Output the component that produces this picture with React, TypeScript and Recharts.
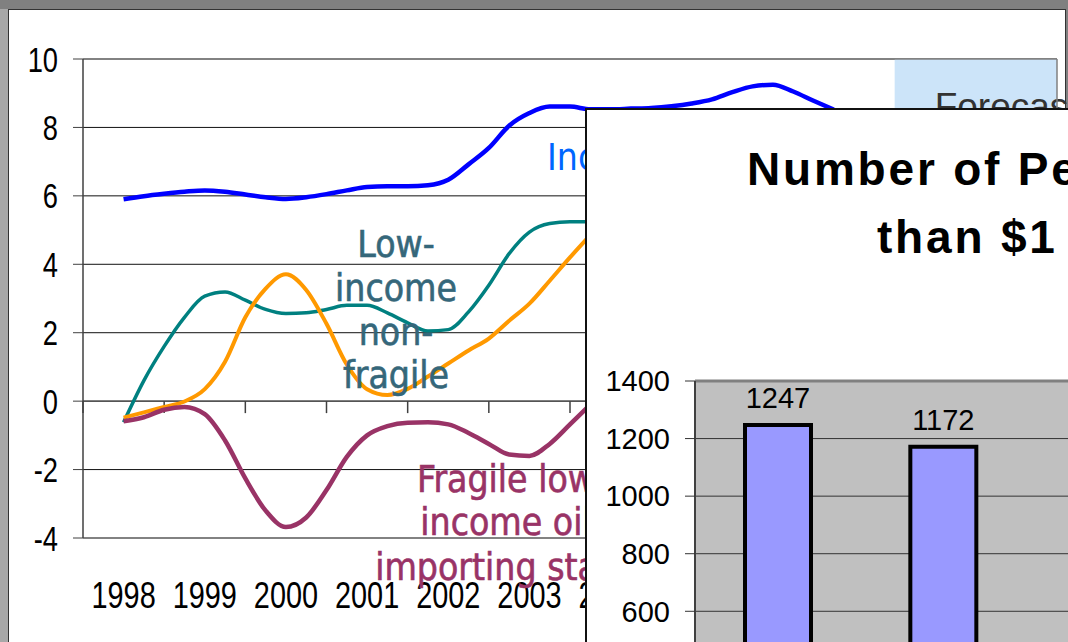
import {
  LineChart,
  Line,
  XAxis,
  YAxis,
  CartesianGrid,
  ReferenceArea,
  ReferenceLine,
  BarChart,
  Bar,
  LabelList,
} from "recharts";

// quarterly points
const quarters = [
  1998, 1998.25, 1998.5, 1998.75, 1999, 1999.25, 1999.5, 1999.75, 2000, 2000.25,
  2000.5, 2000.75, 2001, 2001.25, 2001.5, 2001.75, 2002, 2002.25, 2002.5, 2002.75,
  2003, 2003.25, 2003.5, 2003.75, 2004, 2004.25, 2004.5, 2004.75, 2005, 2005.25,
  2005.5, 2005.75, 2006, 2006.25, 2006.5, 2006.75,
];
const incomeGroup = [
  5.9, 5.99, 6.06, 6.12, 6.16, 6.12, 6.04, 5.96, 5.91, 5.96, 6.05, 6.16, 6.26, 6.28,
  6.28, 6.31, 6.47, 6.92, 7.4, 8.05, 8.42, 8.61, 8.61, 8.53, 8.53, 8.55, 8.57, 8.62,
  8.7, 8.82, 9.03, 9.2, 9.25, 9.05, 8.78, 8.52,
];
const lowIncomeNonFragile = [
  -0.62, 0.6, 1.6, 2.45, 3.07, 3.19, 2.95, 2.68, 2.56, 2.58, 2.68, 2.8, 2.8, 2.58,
  2.29, 2.05, 2.09, 2.61, 3.39, 4.31, 4.94, 5.19, 5.24, 5.24,
];
const oilExporters = [
  -0.48, -0.33, -0.17, -0.01, 0.35, 1.15, 2.45, 3.29, 3.71, 3.25, 2.26, 1.07, 0.35,
  0.18, 0.36, 0.72, 1.1, 1.48, 1.83, 2.35, 2.85, 3.52, 4.2, 4.85,
];
const fragileOilImporters = [
  -0.59, -0.47, -0.25, -0.17, -0.38, -1.15, -2.26, -3.2, -3.68, -3.4, -2.6, -1.63,
  -1.0, -0.73, -0.63, -0.62, -0.68, -0.93, -1.25, -1.56, -1.6, -1.25, -0.68, -0.1,
];
const years = [1998, 1999, 2000, 2001, 2002, 2003, 2004, 2005, 2006, 2007, 2008, 2009];
const growthTicks = [-4, -2, 0, 2, 4, 6, 8, 10];
const forecastFrom = 2007.5;

const povertyYears = ["1990", "1999", "2015"];
const povertyMillions = [1247, 1172, null];
const povertyTicks = [0, 200, 400, 600, 800, 1000, 1200, 1400];

const lineData = quarters.map((t, i) => ({
  t,
  incomeGroup: incomeGroup[i] ?? null,
  lowIncomeNonFragile: lowIncomeNonFragile[i] ?? null,
  oilExporters: oilExporters[i] ?? null,
  fragileOilImporters: fragileOilImporters[i] ?? null,
}));
const barData = povertyYears.map((year, i) => ({ year, people: povertyMillions[i] }));
const yearEdges = [...years.map((y) => y - 0.5), years[years.length - 1] + 0.5];

const labelFont = "'DejaVu Sans Condensed', 'DejaVu Sans', sans-serif";
const arial = "'Liberation Sans', Arial, sans-serif";

// the original axis font is a narrow one; squeeze Liberation Sans to match
function YearTick(props: any) {
  const { x, y, payload } = props;
  return (
    <g transform={`translate(${x},${y}) scale(0.78,1)`}>
      <text x={0} y={0} dy={26} textAnchor="middle" fontSize={37} fontFamily={arial} fill="#000">
        {payload.value}
      </text>
    </g>
  );
}

function GrowthTick(props: any) {
  const { x, y, payload } = props;
  return (
    <g transform={`translate(${x},${y}) scale(0.78,1)`}>
      <text x={0} y={0} dy={12.5} textAnchor="end" fontSize={35} fontFamily={arial} fill="#000">
        {payload.value}
      </text>
    </g>
  );
}

function ForecastLabel(props: any) {
  const vb = props.viewBox || {};
  return (
    <text x={vb.x + 40} y={vb.y + 60} fontSize={37} fontFamily={arial} fill="#333">
      Forecast
    </text>
  );
}

export default function App() {
  return (
    <div
      style={{
        position: "fixed",
        left: 0,
        top: 0,
        width: 1068,
        height: 642,
        overflow: "hidden",
        background: "#808080",
      }}
    >
      <div style={{ position: "absolute", left: 0, top: 9, width: 8, height: 640, background: "#a8a8a8" }} />
      <div
        style={{
          position: "absolute",
          left: 8,
          top: 9,
          width: 1056,
          height: 700,
          background: "#fff",
          border: "1px solid #333",
        }}
      />
      <div style={{ position: "absolute", left: 0, top: 0 }}>
        <LineChart
          width={1068}
          height={642}
          data={lineData}
          margin={{ top: 59, right: 11, left: 0, bottom: 44 }}
        >
          <ReferenceArea
            x1={forecastFrom}
            x2={years[years.length - 1] + 0.5}
            y1={-4}
            y2={10}
            fill="#cce4f9"
            fillOpacity={1}
            stroke="none"
            label={<ForecastLabel />}
          />
          <CartesianGrid vertical={false} stroke="#111" />
          <XAxis
            dataKey="t"
            type="number"
            domain={[1997.5, 2009.5]}
            ticks={years}
            interval={0}
            tickLine={false}
            axisLine={false}
            tickSize={0}
            tickMargin={44}
            height={60}
            tick={<YearTick />}
          />
          <YAxis
            domain={[-4, 10]}
            ticks={growthTicks}
            interval={0}
            width={83}
            tickSize={10}
            tickMargin={15}
            axisLine={{ stroke: "#404040", strokeWidth: 1.5 }}
            tickLine={{ stroke: "#404040" }}
            tick={<GrowthTick />}
          />
          <ReferenceLine y={10} stroke="#808080" strokeWidth={1.5} />
          <ReferenceLine y={-4} stroke="#808080" strokeWidth={1.5} />
          <ReferenceLine x={2009.5} stroke="#808080" strokeWidth={1.5} />
          <ReferenceLine y={0} stroke="#555" strokeWidth={1.5} />
          {yearEdges.map((e) => (
            <ReferenceLine
              key={e}
              segment={[
                { x: e, y: 0 },
                { x: e, y: -0.35 },
              ]}
              stroke="#404040"
              strokeWidth={1.5}
            />
          ))}
          <Line
            type="monotone"
            dataKey="incomeGroup"
            stroke="#0000ff"
            strokeWidth={4.5}
            dot={false}
            isAnimationActive={false}
          />
          <Line
            type="monotone"
            dataKey="lowIncomeNonFragile"
            stroke="#008080"
            strokeWidth={3.5}
            dot={false}
            isAnimationActive={false}
          />
          <Line
            type="monotone"
            dataKey="oilExporters"
            stroke="#ff9900"
            strokeWidth={4}
            dot={false}
            isAnimationActive={false}
          />
          <Line
            type="monotone"
            dataKey="fragileOilImporters"
            stroke="#993366"
            strokeWidth={4.5}
            dot={false}
            isAnimationActive={false}
          />
        </LineChart>
      </div>

      <svg
        width={1068}
        height={642}
        style={{ position: "absolute", left: 0, top: 0, pointerEvents: "none" }}
      >
        <text x={547} y={170} fontSize={37} fontFamily={labelFont} fill="#0066ff">
          Income oil exporters
        </text>
        <g fontSize={37} fontFamily={labelFont} fill="#35677a" textAnchor="middle" stroke="#35677a" strokeWidth={0.6}>
          <text x={396} y={257}>Low-</text>
          <text x={396} y={301}>income</text>
          <text x={396} y={345}>non-</text>
          <text x={396} y={388}>fragile</text>
        </g>
        <g fontSize={37} fontFamily={labelFont} fill="#993366" textAnchor="middle" stroke="#993366" strokeWidth={0.6}>
          <text x={512} y={492}>Fragile low-</text>
          <text x={512} y={535}>income oil-</text>
          <text x={512} y={580}>importing states</text>
        </g>
      </svg>

      <div
        style={{
          position: "absolute",
          left: 585,
          top: 108,
          width: 700,
          height: 700,
          background: "#fff",
          border: "2px solid #111",
        }}
      />
      <svg
        width={1068}
        height={642}
        style={{ position: "absolute", left: 0, top: 0, pointerEvents: "none" }}
      >
        <g fontSize={46} fontWeight="bold" fontFamily={arial} fill="#000" letterSpacing={2.8}>
          <text x={747} y={185}>Number of People Living on</text>
          <text x={877} y={253}>than $1 a Day</text>
        </g>
      </svg>
      <div style={{ position: "absolute", left: 600, top: 330 }}>
        <BarChart
          width={600}
          height={500}
          data={barData}
          margin={{ top: 51, right: 9, left: 0, bottom: 16 }}
        >
          <CartesianGrid
            vertical={false}
            stroke="#333"
            fill="#c0c0c0"
            fillOpacity={1}
          />
          <XAxis
            dataKey="year"
            height={30}
            tickLine={false}
            axisLine={{ stroke: "#404040" }}
            tick={{ fontSize: 28, fontFamily: arial, fill: "#000" }}
          />
          <YAxis
            domain={[0, 1400]}
            ticks={povertyTicks}
            interval={0}
            width={95}
            tickSize={10}
            tickMargin={15}
            axisLine={{ stroke: "#404040", strokeWidth: 2 }}
            tickLine={{ stroke: "#333" }}
            tick={{ fontSize: 29, fontFamily: arial, fill: "#000" }}
          />
          <ReferenceLine y={1400} stroke="#808080" strokeWidth={3} />
          <Bar
            dataKey="people"
            fill="#9999ff"
            stroke="#000"
            strokeWidth={4}
            barSize={66}
            isAnimationActive={false}
          >
            <LabelList
              dataKey="people"
              position="top"
              offset={17}
              fontSize={29}
              fontFamily={arial}
              fill="#000"
            />
          </Bar>
        </BarChart>
      </div>
    </div>
  );
}
